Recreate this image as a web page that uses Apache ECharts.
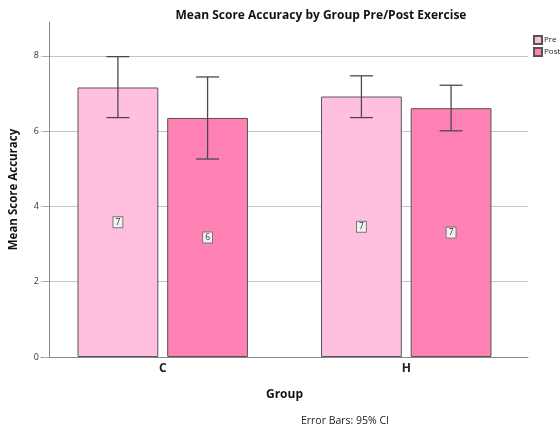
<!DOCTYPE html>
<html><head><meta charset="utf-8">
<script src="https://cdn.jsdelivr.net/npm/echarts@6/dist/echarts.min.js"></script>
<style>html,body{margin:0;padding:0;background:#fff}#c{width:560px;height:429px}</style>
</head><body><div id="c"></div>
<script>
const categories = ['C', 'H'];
const seriesNames = ['Pre', 'Post'];
const preMeans = [7.16, 6.92];
const postMeans = [6.35, 6.61];
const preLow = [6.36, 6.36];
const preHigh = [7.98, 7.47];
const postLow = [5.26, 6.01];
const postHigh = [7.44, 7.22];
const yTickValues = [0, 2, 4, 6, 8];

const preColor = '#FFC0E0';
const postColor = '#FF80B2';
const FONT = 'Open Sans';
const CAT_GAP = 0.30, BAR_GAP = 0.11;

function errSeries(idx, low, high) {
  return {
    type: 'custom',
    name: seriesNames[idx] + ' CI',
    z: 10,
    silent: true,
    data: categories.map((c, i) => [i, low[i], high[i]]),
    renderItem: function (params, api) {
      const band = api.size([1, 0])[0];
      const w = band * (1 - CAT_GAP) / (2 + BAR_GAP);
      const off = (idx === 0 ? -1 : 1) * (w + w * BAR_GAP) / 2;
      const lo = api.coord([api.value(0), api.value(1)]);
      const hi = api.coord([api.value(0), api.value(2)]);
      const x = lo[0] + off;
      const cap = 11.5;
      const style = { stroke: '#4a4a4a', lineWidth: 1.3 };
      return {
        type: 'group',
        children: [
          { type: 'line', shape: { x1: x, y1: lo[1], x2: x, y2: hi[1] }, style },
          { type: 'line', shape: { x1: x - cap, y1: lo[1], x2: x + cap, y2: lo[1] }, style },
          { type: 'line', shape: { x1: x - cap, y1: hi[1], x2: x + cap, y2: hi[1] }, style }
        ]
      };
    }
  };
}

const barLabel = {
  show: true,
  position: 'inside',
  formatter: p => String(Math.round(p.value)),
  fontFamily: FONT,
  fontSize: 8.5,
  color: '#333',
  backgroundColor: '#f2f2f2',
  borderColor: '#777',
  borderWidth: 1,
  padding: [1, 2, 0, 2]
};

const chart = echarts.init(document.getElementById('c'), null, { renderer: 'canvas' });
chart.setOption({
  animation: false,
  backgroundColor: '#fff',
  textStyle: { fontFamily: FONT },
  title: [
    { text: 'Mean Score Accuracy by Group Pre/Post Exercise', left: 316, top: 5, textAlign: 'center',
      textStyle: { fontFamily: FONT, fontSize: 12, fontWeight: 'bold', color: '#111' } },
    { text: 'Error Bars: 95% CI', left: 340, top: 411, textAlign: 'center',
      textStyle: { fontFamily: FONT, fontSize: 10.5, fontWeight: 'normal', color: '#222' } }
  ],
  legend: {
    orient: 'vertical', left: 528, top: 30, itemWidth: 8, itemHeight: 8, itemGap: 2,
    icon: 'rect', data: seriesNames,
    textStyle: { fontFamily: FONT, fontSize: 8, color: '#222', padding: [0, 0, 0, -3] }
  },
  grid: { left: 40, right: 32, top: 22, bottom: 72, containLabel: false },
  xAxis: {
    type: 'category', data: categories,
    name: 'Group', nameLocation: 'middle', nameGap: 32,
    nameTextStyle: { fontFamily: FONT, fontSize: 12, fontWeight: 'bold', color: '#111' },
    axisLine: { show: true, lineStyle: { color: '#888', width: 1 } },
    axisTick: { show: false },
    axisLabel: { fontFamily: FONT, fontSize: 12, fontWeight: 'bold', color: '#222', margin: 6 }
  },
  yAxis: {
    type: 'value', min: 0, max: 8.9, interval: 2, offset: -8,
    name: 'Mean Score Accuracy', nameLocation: 'middle', nameGap: 29,
    nameTextStyle: { fontFamily: FONT, fontSize: 11.5, fontWeight: 'bold', color: '#111' },
    axisLine: { show: true, lineStyle: { color: '#888', width: 1 } },
    axisTick: { show: true, length: 6, lineStyle: { color: '#aaa' } },
    axisLabel: { fontFamily: FONT, fontSize: 9, color: '#333', margin: 10, showMaxLabel: false,
      formatter: v => yTickValues.includes(v) ? String(v) : '' },
    splitLine: { show: true, showMinLine: false, showMaxLine: false, lineStyle: { color: '#c4c4c4', width: 1 } }
  },
  series: [
    { type: 'bar', name: 'Pre', data: preMeans, barCategoryGap: '30%', barGap: '11%',
      itemStyle: { color: preColor, borderColor: '#555', borderWidth: 1 }, label: barLabel },
    { type: 'bar', name: 'Post', data: postMeans, barCategoryGap: '30%', barGap: '11%',
      itemStyle: { color: postColor, borderColor: '#555', borderWidth: 1 }, label: barLabel },
    errSeries(0, preLow, preHigh),
    errSeries(1, postLow, postHigh)
  ]
});
</script></body></html>
